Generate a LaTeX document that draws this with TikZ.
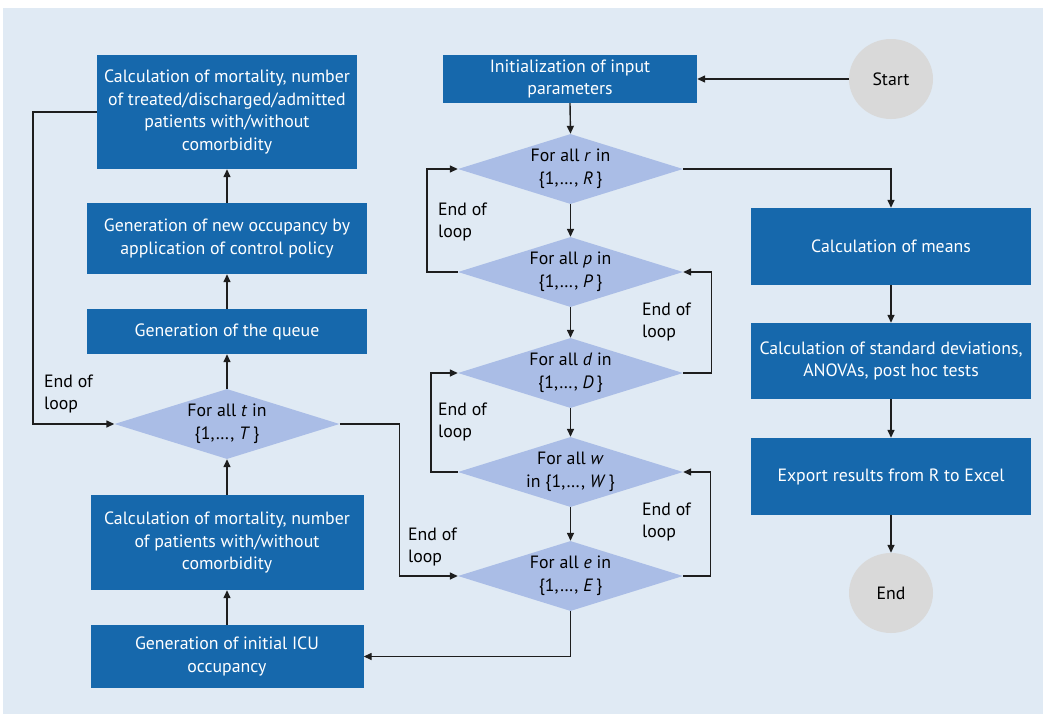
\documentclass[tikz,border=0pt]{standalone}
\usepackage{fontspec}
\setmainfont{PT Sans}
\usetikzlibrary{shapes.geometric,arrows.meta}
\definecolor{boxblue}{RGB}{22,104,172}
\definecolor{diablue}{RGB}{170,189,230}
\definecolor{bgblue}{RGB}{224,234,244}
\definecolor{circgray}{RGB}{217,217,217}
\definecolor{linegray}{RGB}{30,30,30}
\begin{document}
\begin{tikzpicture}[x=1pt,y=-1pt,
  every node/.style={font=\fontsize{17.8}{22.7}\selectfont},
  box/.style={fill=boxblue,text=white,align=center,inner sep=0pt,draw=none},
  dia/.style={diamond,fill=diablue,draw=none,inner sep=0pt,minimum width=225pt,minimum height=70pt},
  dtext/.style={align=center,inner sep=0pt,text=black},
  term/.style={ellipse,fill=circgray,draw=none,minimum width=84pt,minimum height=80pt,inner sep=0pt,text=black},
  loopl/.style={align=left,anchor=west,inner sep=0pt,text=black},
  arr/.style={draw=linegray,line width=1.4pt,-{Triangle[length=8pt,width=7pt]}}
]
\useasboundingbox (0,0) rectangle (1050,715);
\fill[bgblue] (3,8) rectangle (1043,714);

% left column
\node[box,minimum width=260pt,minimum height=114pt] (calcA) at (227,112) {Calculation of mortality, number\\of treated/discharged/admitted\\patients with/without\\comorbidity};
\node[box,minimum width=280pt,minimum height=71pt] (newocc) at (227,238.5) {Generation of new occupancy by\\application of control policy};
\node[box,minimum width=280pt,minimum height=45pt] (queue) at (227,331.5) {Generation of the queue};
\node[dia] (t) at (227,424) {};
\node[dtext] (tt) at (t.center) {For all \textit{t} in\\\{1,\dots, \textit{T}\,\}};
\node[box,minimum width=273pt,minimum height=95pt] (calcB) at (227,542.5) {Calculation of mortality, number\\of patients with/without\\comorbidity};
\node[box,minimum width=273pt,minimum height=63pt] (icu) at (227,656.5) {Generation of initial ICU\\occupancy};

% middle column
\node[box,minimum width=254pt,minimum height=48pt] (init) at (570,79) {Initialization of input\\parameters};
\node[dia] (r) at (570.5,169) {};
\node[dtext] (rt) at (r.center) {For all \textit{r} in\\\{1,\dots, \textit{R}\,\}};
\node[dia] (p) at (570.5,272) {};
\node[dtext] (pt) at (p.center) {For all \textit{p} in\\\{1,\dots, \textit{P}\,\}};
\node[dia] (d) at (570.5,373) {};
\node[dtext] (dt) at (d.center) {For all \textit{d} in\\\{1,\dots, \textit{D}\,\}};
\node[dia] (w) at (570.5,472) {};
\node[dtext] (wt) at (w.center) {For all \textit{w}\\in \{1,\dots, \textit{W}\,\}};
\node[dia] (e) at (570.5,576) {};
\node[dtext] (et) at (e.center) {For all \textit{e} in\\\{1,\dots, \textit{E}\,\}};

% right column
\node[term] (start) at (891,79) {Start};
\node[box,minimum width=280pt,minimum height=77pt] (means) at (891,246.5) {Calculation of means};
\node[box,minimum width=280pt,minimum height=76pt] (std) at (891,361) {Calculation of standard deviations,\\ANOVAs, post hoc tests};
\node[box,minimum width=280pt,minimum height=77pt] (export) at (891,476.5) {Export results from R to Excel};
\node[term] (end) at (891,593) {End};

% loop labels
\node[loopl] (l1) at (44,394) {End of\\loop};
\node[loopl] (l2) at (438,222) {End of\\loop};
\node[loopl] (l3) at (642,322) {End of\\loop};
\node[loopl] (l4) at (438,422) {End of\\loop};
\node[loopl] (l5) at (642,522) {End of\\loop};
\node[loopl] (l6) at (408,547) {End of\\loop};

% connectors
\draw[arr] (start.west) -- (init.east);
\draw[arr] (init.south) -- (r.north);
\draw[arr] (r.south) -- (p.north);
\draw[arr] (p.south) -- (d.north);
\draw[arr] (d.south) -- (w.north);
\draw[arr] (w.south) -- (e.north);
\draw[arr] (r.east) -| (means.north);
\draw[arr] (means.south) -- (std.north);
\draw[arr] (std.south) -- (export.north);
\draw[arr] (export.south) -- (end.north);
\draw[arr] (p.west) -- ++(-31,0) |- (r.west);
\draw[arr] (d.east) -- ++(28,0) |- (p.east);
\draw[arr] (w.west) -- ++(-27,0) |- (d.west);
\draw[arr] (e.east) -- ++(27,0) |- (w.east);
\draw[arr] (e.south) |- (icu.east);
\draw[arr] (icu.north) -- (calcB.south);
\draw[arr] (calcB.north) -- (t.south);
\draw[arr] (t.north) -- (queue.south);
\draw[arr] (queue.north) -- (newocc.south);
\draw[arr] (newocc.north) -- (calcA.south);
\draw[arr] (calcA.west) -- ++(-64,0) |- (t.west);
\draw[arr] (t.east) -- ++(60,0) |- (e.west);
\end{tikzpicture}
\end{document}
